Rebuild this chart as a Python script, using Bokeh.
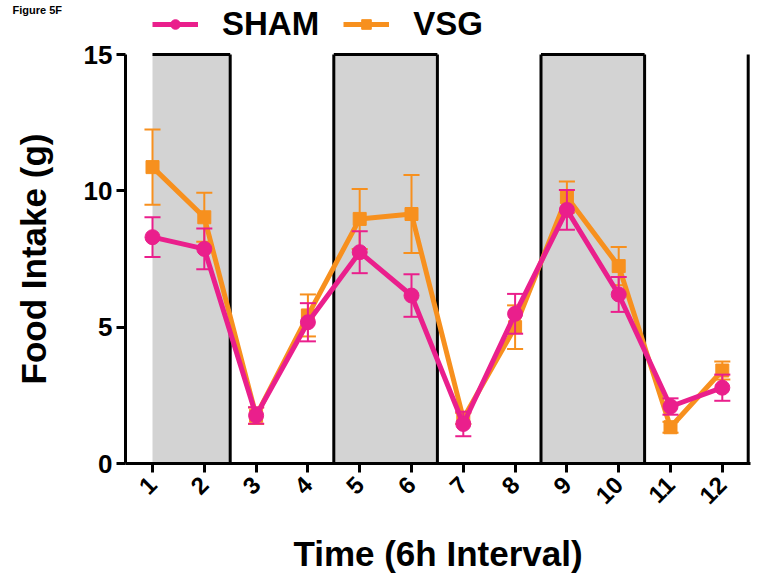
import math
from bokeh.plotting import figure
from bokeh.models import (Range1d, Legend, LegendItem, ColumnDataSource,
                          FixedTicker, Label)
from bokeh.embed import file_html
from bokeh.resources import INLINE

# ---- data ----
intervals = [1, 2, 3, 4, 5, 6, 7, 8, 9, 10, 11, 12]
sham_mean = [8.3, 7.87, 1.76, 5.18, 7.75, 6.16, 1.45, 5.49, 9.3, 6.2, 2.09, 2.78]
sham_err = [0.73, 0.75, 0.3, 0.7, 0.77, 0.78, 0.45, 0.73, 0.73, 0.64, 0.3, 0.48]
vsg_mean = [10.87, 9.03, 1.75, 5.43, 8.97, 9.15, 1.65, 5.0, 9.77, 7.24, 1.33, 3.41]
vsg_err = [1.38, 0.9, 0.3, 0.77, 1.1, 1.43, 0.2, 0.8, 0.57, 0.7, 0.2, 0.33]
dark_start = [1.0, 4.5, 8.5]
dark_end = [2.5, 6.5, 10.5]
dividers = [2.5, 4.5, 6.5, 8.5, 10.5, 12.5]
y_ticks = [0, 5, 10, 15]
y_top = 15

PINK = "#EA1F8C"
ORANGE = "#F7901E"
GRAY = "#D3D3D3"
FONT = "Liberation Sans"

# canvas geometry (pixels)
W, H = 753, 578
X1_PX, DX_PX = 152.0, 51.8        # pixel of x=1, pixels per x unit
Y0_PX, DY_PX = 463.0, 409.0 / 15  # pixel of y=0, pixels per y unit
x_left = 1 - X1_PX / DX_PX
x_right = 1 + (W - X1_PX) / DX_PX
y_top_rng = Y0_PX / DY_PX
y_bot_rng = -(H - Y0_PX) / DY_PX
y_axis_x = 1 - (X1_PX - 125) / DX_PX

p = figure(frame_width=W, frame_height=H,
           min_border_left=0, min_border_right=0,
           min_border_top=0, min_border_bottom=0,
           x_range=Range1d(x_left, x_right),
           y_range=Range1d(y_bot_rng, y_top_rng),
           output_backend="svg", toolbar_location=None)
p.outline_line_color = None
p.grid.visible = False
p.background_fill_color = "white"
p.border_fill_color = "white"

# dark-phase shading
n = len(dark_start)
p.quad(left=dark_start, right=dark_end, bottom=[0] * n, top=[y_top] * n,
       fill_color=GRAY, line_color=None)
p.segment(x0=dark_start, x1=dark_end, y0=[y_top] * n, y1=[y_top] * n,
          line_color="black", line_width=3)
p.segment(x0=dividers, x1=dividers, y0=[0] * len(dividers), y1=[y_top] * len(dividers),
          line_color="black", line_width=3)

CAP = 0.155  # half cap width in x units

def series(mean, err, color, marker, size):
    lo = [m - e for m, e in zip(mean, err)]
    hi = [m + e for m, e in zip(mean, err)]
    src = ColumnDataSource(dict(x=intervals, y=mean, lo=lo, hi=hi,
                                cl=[x - CAP for x in intervals],
                                cr=[x + CAP for x in intervals]))
    p.segment(x0="x", x1="x", y0="lo", y1="hi", source=src,
              line_color=color, line_width=2)
    p.segment(x0="cl", x1="cr", y0="lo", y1="lo", source=src,
              line_color=color, line_width=2)
    p.segment(x0="cl", x1="cr", y0="hi", y1="hi", source=src,
              line_color=color, line_width=2)
    lr = p.line("x", "y", source=src, line_color=color, line_width=5)
    mr = p.scatter("x", "y", source=src, marker=marker, size=size,
                   fill_color=color, line_color=color)
    return lr, mr

v_l, v_m = series(vsg_mean, vsg_err, ORANGE, "square", 13)
s_l, s_m = series(sham_mean, sham_err, PINK, "circle", 15)

legend = Legend(items=[LegendItem(label="SHAM", renderers=[s_l, s_m]),
                       LegendItem(label="VSG", renderers=[v_l, v_m])],
                orientation="horizontal", location=(152, H - 43))
legend.label_text_font = FONT
legend.label_text_font_style = "bold"
legend.label_text_font_size = "33px"
legend.label_text_color = "black"
legend.glyph_width = 46
legend.glyph_height = 24
legend.label_standoff = 24
legend.spacing = 24
legend.padding = 0
legend.margin = 0
legend.border_line_color = None
legend.background_fill_alpha = 0
p.add_layout(legend)

fig_label = Label(x=12, y=H - 3, x_units="screen", y_units="screen",
                  text="Figure 5F", text_font=FONT, text_font_style="bold",
                  text_font_size="11px", text_baseline="top", text_color="black")
p.add_layout(fig_label)

# axes
for ax in (p.xaxis[0], p.yaxis[0]):
    ax.axis_line_width = 3
    ax.major_tick_line_width = 3
    ax.major_tick_out = 9
    ax.major_tick_in = 0
    ax.minor_tick_line_color = None
    ax.major_label_text_font = FONT
    ax.major_label_text_font_style = "bold"
    ax.major_label_text_color = "black"
    ax.axis_label_text_font = FONT
    ax.axis_label_text_font_style = "bold"
    ax.axis_label_text_color = "black"

p.yaxis.fixed_location = y_axis_x
p.yaxis.ticker = FixedTicker(ticks=y_ticks)
p.yaxis.bounds = (0, 15)
p.yaxis.major_label_text_font_size = "26px"
p.yaxis.axis_label = "Food Intake (g)"
p.yaxis.axis_label_text_font_size = "35px"
p.yaxis.axis_label_standoff = 28
p.yaxis.major_label_standoff = 4

p.xaxis.fixed_location = 0
p.xaxis.ticker = FixedTicker(ticks=intervals)
p.xaxis.bounds = (y_axis_x, 12.55)
p.xaxis.major_label_text_font_size = "24px"
p.xaxis.major_label_orientation = math.pi / 4
p.xaxis.axis_label = "Time (6h Interval)"
p.xaxis.axis_label_text_font_size = "35px"
p.xaxis.axis_label_standoff = 20
p.xaxis.major_label_standoff = 8

open("out.html", "w").write(file_html(p, INLINE))
